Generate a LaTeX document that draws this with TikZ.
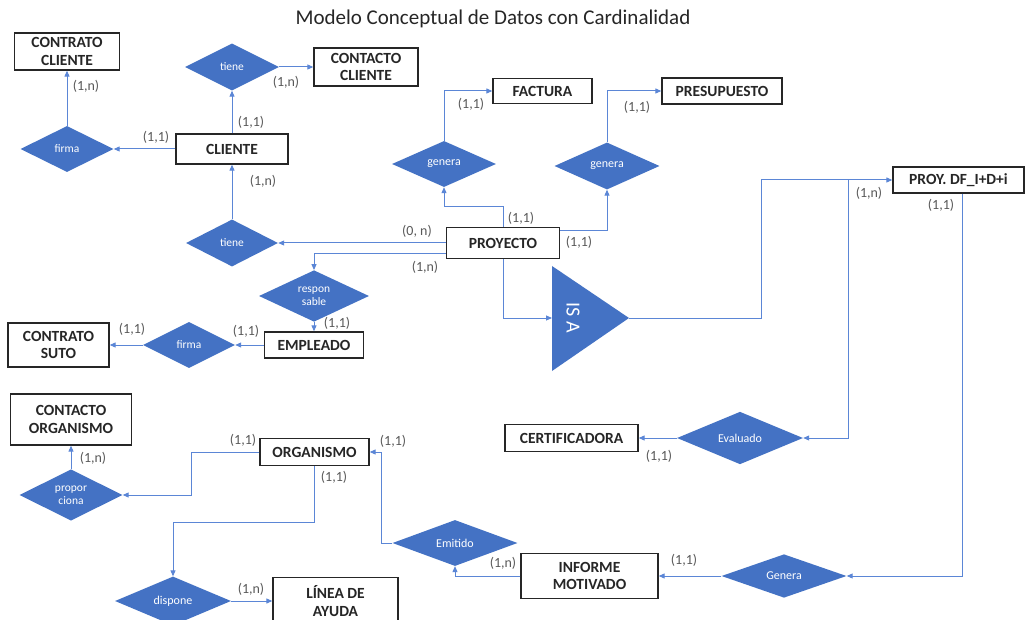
\documentclass[tikz,border=0pt]{standalone}
\usepackage{fontspec}
\setmainfont{Carlito}
\usetikzlibrary{shapes.geometric,arrows.meta}
\definecolor{relfill}{HTML}{4472C4}
\definecolor{linkc}{HTML}{5B86D6}
\definecolor{cardc}{HTML}{595959}
\tikzset{
  entity/.style={draw=black!85, line width=1.3pt, fill=white, inner sep=0pt,
    align=center, text=black!85, font=\fontsize{15.5}{17.5}\selectfont\bfseries},
  rel/.style={diamond, fill=relfill, inner sep=0pt, text=white, align=center,
    font=\fontsize{11.5}{13.5}\selectfont},
  relbig/.style={rel, font=\fontsize{12}{14}\selectfont},
  link/.style={draw=linkc, line width=1pt, -{Triangle[length=6pt,width=5pt]}},
  card/.style={text=cardc, inner sep=0pt, font=\fontsize{14}{16}\selectfont},
}
\begin{document}
\begin{tikzpicture}[x=1pt,y=-1pt]
\useasboundingbox (0,0) rectangle (1025,620);
\fill[white] (0,0) rectangle (1025,620);

% title
\node[font=\fontsize{21}{24}\selectfont, text=black!85] (title) at (493,19)
  {Modelo Conceptual de Datos con Cardinalidad};

% entities
\node[entity, minimum width=105pt, minimum height=37pt] (ccli) at (67,51.5) {CONTRATO\\CLIENTE};
\node[entity, minimum width=104pt, minimum height=38pt] (ccon) at (366,67) {CONTACTO\\CLIENTE};
\node[entity, minimum width=112pt, minimum height=30pt] (cli) at (232,149) {CLIENTE};
\node[entity, minimum width=99pt, minimum height=25pt] (fac) at (542.5,91) {FACTURA};
\node[entity, minimum width=120pt, minimum height=26pt] (pre) at (722,91) {PRESUPUESTO};
\node[entity, minimum width=113pt, minimum height=31pt] (proy) at (503,243) {PROYECTO};
\node[entity, minimum width=131pt, minimum height=26pt] (pdf) at (958.5,180) {PROY. DF\_I+D+i};
\node[entity, minimum width=99pt, minimum height=26pt] (emp) at (314,345) {EMPLEADO};
\node[entity, minimum width=101pt, minimum height=44pt] (csuto) at (58.5,345) {CONTRATO\\SUTO};
\node[entity, minimum width=121pt, minimum height=51pt] (corg) at (71,419.5) {CONTACTO\\ORGANISMO};
\node[entity, minimum width=109pt, minimum height=27pt] (org) at (314.5,452) {ORGANISMO};
\node[entity, minimum width=125pt, minimum height=47pt] (lin) at (335.5,601) {LÍNEA DE\\AYUDA};
\node[entity, minimum width=133pt, minimum height=27pt] (cert) at (571.5,438) {CERTIFICADORA};
\node[entity, minimum width=137pt, minimum height=45pt] (inf) at (589.5,576) {INFORME\\MOTIVADO};

% relationships
\node[rel, minimum width=94pt, minimum height=47pt] (tiene1) at (232,67) {tiene};
\node[rel, minimum width=93pt, minimum height=46pt] (firma1) at (67,149) {firma};
\node[rel, minimum width=92pt, minimum height=47pt] (tiene2) at (232,243) {tiene};
\node[rel, minimum width=110pt, minimum height=36pt] (resp) at (314,296) {respon\\sable};
\node[rel, minimum width=92pt, minimum height=46pt] (firma2) at (189,345) {firma};
\node[relbig, minimum width=104pt, minimum height=46pt] (gen1) at (444,164) {genera};
\node[relbig, minimum width=105pt, minimum height=47pt] (gen2) at (607,166) {genera};
\node[rel, minimum width=103pt, minimum height=47pt] (prop) at (71,495) {propor\\ciona};
\node[relbig, minimum width=116pt, minimum height=46pt] (disp) at (173,601) {dispone};
\node[relbig, minimum width=125pt, minimum height=37pt] (emit) at (455,543) {Emitido};
\node[relbig, minimum width=126pt, minimum height=37pt] (eval) at (740,438) {Evaluado};
\node[relbig, minimum width=125pt, minimum height=38pt] (gen3) at (784,576) {Genera};

% IS A triangle
\fill[relfill] (552,266) -- (629,318) -- (552,371) -- cycle;
\coordinate (isaL) at (552,318);
\coordinate (isaR) at (629,318);
\node[text=white, rotate=-90, font=\fontsize{20}{22}\selectfont] (isa) at (573,318) {IS A};
\coordinate (tap) at (848,180);

% connectors
\draw[link] (cli.north) -- (tiene1.south);
\draw[link] (tiene1.east) -- (ccon.west);
\draw[link] (cli.west) -- (firma1.east);
\draw[link] (firma1.north) -- (ccli.south);
\draw[link] (tiene2.north) -- (cli.south);
\draw[link] (proy.west) -- (tiene2.east);
\draw[link] ([yshift=-11pt]proy.west) -| (resp.north);
\draw[link] (resp.south) -- (emp.north);
\draw[link] (emp.west) -- (firma2.east);
\draw[link] (firma2.west) -- (csuto.east);
\draw[link] (proy.north) -- ++(0,-20) -| (gen1.south);
\draw[link] (gen1.north) |- (fac.west);
\draw[link] ([yshift=12pt]proy.east) -| (gen2.south);
\draw[link] (gen2.north) |- (pre.west);
\draw[link] (proy.south) |- (isaL);
\draw[link] (isaR) -- ++(132,0) |- (pdf.west);
\draw[link] (tap) |- (eval.east);
\draw[link] (eval.west) -- (cert.east);
\draw[link] ([xshift=3.5pt]pdf.south) |- (gen3.east);
\draw[link] (gen3.west) -- (inf.east);
\draw[link] (inf.west) -| (emit.south);
\draw[link] (emit.west) -- ++(-11,0) |- (org.east);
\draw[link] (org.west) -- ++(-68,0) |- (prop.east);
\draw[link] (prop.north) -- (corg.south);
\draw[link] (org.south) -- ++(0,56) -| (disp.north);
\draw[link] (disp.east) -- (lin.west);

% cardinalities
\node[card] (k1) at (86,86) {(1,n)};
\node[card] (k2) at (286,82) {(1,n)};
\node[card] (k3) at (251,122) {(1,1)};
\node[card] (k4) at (156,137) {(1,1)};
\node[card] (k5) at (263,181) {(1,n)};
\node[card] (k6) at (471,104) {(1,1)};
\node[card] (k7) at (637,107) {(1,1)};
\node[card] (k8) at (521,218) {(1,1)};
\node[card] (k9) at (417,231) {(0, n)};
\node[card] (k10) at (579,242) {(1,1)};
\node[card] (k11) at (425,267) {(1,n)};
\node[card] (k12) at (869,193) {(1,n)};
\node[card] (k13) at (941,205) {(1,1)};
\node[card] (k14) at (337,323) {(1,1)};
\node[card] (k15) at (246,331) {(1,1)};
\node[card] (k16) at (132,329) {(1,1)};
\node[card] (k17) at (93,458) {(1,n)};
\node[card] (k18) at (243,440) {(1,1)};
\node[card] (k19) at (393,441) {(1,1)};
\node[card] (k20) at (334,477) {(1,1)};
\node[card] (k21) at (251,589) {(1,n)};
\node[card] (k22) at (659,456) {(1,1)};
\node[card] (k23) at (503,563) {(1,n)};
\node[card] (k24) at (684,560) {(1,1)};
\end{tikzpicture}
\end{document}
